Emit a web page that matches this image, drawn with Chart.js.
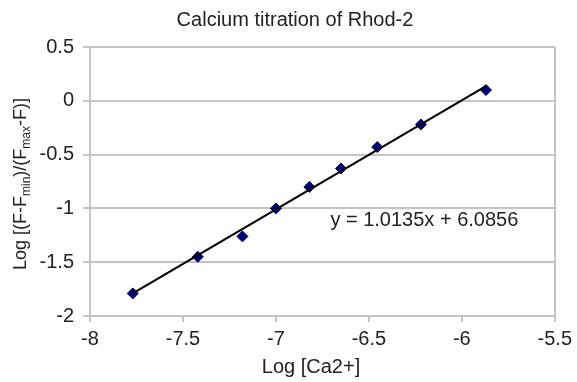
<!DOCTYPE html>
<html>
<head>
<meta charset="utf-8">
<script src="https://cdn.jsdelivr.net/npm/chart.js@4/dist/chart.umd.min.js"></script>
<style>
  html, body { margin: 0; padding: 0; background: #fff; }
  canvas { display: block; }
</style>
</head>
<body>
<canvas id="chart" width="577" height="382"></canvas>
<script>
// Datos
const logCa   = [-7.77, -7.42, -7.18, -7.00, -6.82, -6.65, -6.455, -6.22, -5.87];
const logRatio = [-1.79, -1.45, -1.26, -1.00, -0.80, -0.63, -0.43, -0.22, 0.10];

// Línea de tendencia (ecuación mostrada)
const trendSlope = 1.0135;
const trendIntercept = 6.0856;
const trendLabel = "y = 1.0135x + 6.0856";

// Ejes
const xTicks = [-8, -7.5, -7, -6.5, -6, -5.5];
const yTicks = [-2, -1.5, -1, -0.5, 0, 0.5];

const TITLE = "Calcium titration of Rhod-2";
const X_TITLE = "Log [Ca2+]";
// Título Y con subíndices: [texto, esSubindice]
const Y_TITLE = [["Log [(F-F", false], ["min", true], [")/(F", false], ["max", true], ["-F)]", false]];

const FONT = '"Liberation Sans", Arial, sans-serif';
const GRID = "#c4c4c4";
const TEXT = "#222";

// posición de la ecuación en coordenadas de datos
const EQ_X = -6.707, EQ_Y = -1.11;

const trendX = [logCa[0], logCa[logCa.length - 1]];
const trendPts = trendX.map(x => ({ x, y: trendSlope * x + trendIntercept }));
const points = logCa.map((x, i) => ({ x, y: logRatio[i] }));

// ---------- Textos (título, ecuación, títulos de ejes) ----------
const textPlugin = {
  id: "texts",
  afterDraw(chart) {
    const ctx = chart.ctx;
    const { x, y } = chart.scales;
    ctx.save();
    ctx.fillStyle = TEXT;
    ctx.textBaseline = "middle";

    // título
    ctx.font = `20px ${FONT}`;
    ctx.textAlign = "center";
    ctx.fillText(TITLE, 295, 20);

    // título eje X
    ctx.font = `20px ${FONT}`;
    ctx.fillText(X_TITLE, 311, 367);

    // ecuación
    ctx.textAlign = "left";
    ctx.font = `20px ${FONT}`;
    ctx.fillText(trendLabel, x.getPixelForValue(EQ_X), y.getPixelForValue(EQ_Y));

    // título eje Y (rotado, con subíndices)
    ctx.translate(19.5, 184);
    ctx.rotate(-Math.PI / 2);
    ctx.textBaseline = "alphabetic";
    const fontFor = sub => sub ? `12px ${FONT}` : `18px ${FONT}`;
    let total = 0;
    Y_TITLE.forEach(([t, sub]) => { ctx.font = fontFor(sub); total += ctx.measureText(t).width; });
    let pos = -total / 2;
    Y_TITLE.forEach(([t, sub]) => {
      ctx.font = fontFor(sub);
      ctx.fillText(t, pos, sub ? 10 : 6);
      pos += ctx.measureText(t).width;
    });
    ctx.restore();
  }
};

new Chart(document.getElementById("chart"), {
  type: "scatter",
  data: {
    datasets: [
      {
        label: "Datos",
        data: points,
        pointStyle: "rectRot",
        pointRadius: 5.5,
        backgroundColor: "#00007a",
        borderColor: "#000050",
        borderWidth: 1,
        order: 2
      },
      {
        label: "Tendencia",
        data: trendPts,
        showLine: true,
        pointRadius: 0,
        borderColor: "#000",
        borderWidth: 2.2,
        order: 1
      }
    ]
  },
  options: {
    responsive: false,
    animation: false,
    layout: { padding: { top: 47, right: 19, left: 0, bottom: 0 } },
    plugins: {
      legend: { display: false },
      title: { display: false },
      tooltip: { enabled: false }
    },
    scales: {
      x: {
        type: "linear",
        min: xTicks[0],
        max: xTicks[xTicks.length - 1],
        afterBuildTicks: s => { s.ticks = xTicks.map(v => ({ value: v })); },
        ticks: { color: TEXT, font: { family: FONT, size: 20 }, padding: 5, callback: v => String(v) },
        grid: {
          color: c => (c.tick && c.tick.value === xTicks[xTicks.length - 1]) ? GRID : "rgba(0,0,0,0)",
          tickColor: GRID,
          lineWidth: 2,
          tickLength: 6
        },
        border: { color: GRID, width: 2 },
        afterFit: s => { s.height = 66; }
      },
      y: {
        min: yTicks[0],
        max: yTicks[yTicks.length - 1],
        afterBuildTicks: s => { s.ticks = yTicks.map(v => ({ value: v })); },
        ticks: { color: TEXT, font: { family: FONT, size: 20 }, padding: 9, callback: v => String(v) },
        grid: { color: GRID, lineWidth: 2, tickLength: 7 },
        border: { color: GRID, width: 2 },
        afterFit: s => { s.width = 90; }
      }
    }
  },
  plugins: [textPlugin]
});
</script>
</body>
</html>
